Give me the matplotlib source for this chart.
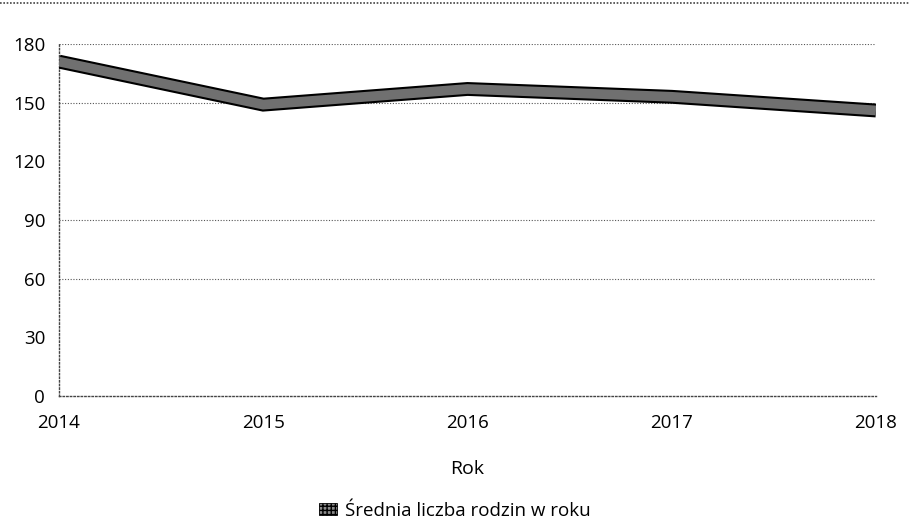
#!/usr/bin/env python3

import matplotlib.pyplot as plt
from matplotlib.patches import Patch

plt.rcParams["font.family"] = ["Open Sans", "DejaVu Sans"]

years = [2014, 2015, 2016, 2017, 2018]
families = [171, 149, 157, 153, 146]
yticks = [0, 30, 60, 90, 120, 150, 180]
grid_levels = [60, 90, 150, 180]

fig = plt.figure(figsize=(9.09, 5.22), dpi=100)
ax = fig.add_axes([0.0649, 0.2414, 0.8988, 0.6743])

# thick band: black outline with grey fill
ax.plot(years, families, color="black", linewidth=10, solid_joinstyle="miter",
        solid_capstyle="butt", zorder=3)
ax.plot(years, families, color="#707070", linewidth=7, solid_joinstyle="miter",
        solid_capstyle="butt", zorder=4)

for lvl in grid_levels:
    ax.axhline(lvl, color="#555555", linewidth=0.8, linestyle=(0, (1, 1.5)), zorder=1)

ax.set_xlim(2014, 2018)
ax.set_ylim(0, 180)
ax.set_xticks(years)
ax.set_yticks(yticks)
ax.tick_params(length=0, labelsize=13.5)
ax.tick_params(axis="x", pad=13)
ax.tick_params(axis="y", pad=10)
for sp in ["top", "right"]:
    ax.spines[sp].set_visible(False)
for sp in ["left", "bottom"]:
    ax.spines[sp].set_linestyle((0, (1, 1.6)))
    ax.spines[sp].set_linewidth(1.0)
    ax.spines[sp].set_color("#444444")

ax.set_xlabel("Rok", fontsize=14, labelpad=20)

handle = Patch(facecolor="#8a8a8a", edgecolor="black", hatch="++++", linewidth=0.6)
fig.legend([handle], ["Średnia liczba rodzin w roku"], loc="center",
           bbox_to_anchor=(0.5, 0.022), frameon=False, fontsize=13.5,
           handlelength=1.0, handleheight=0.6, handletextpad=0.4)

# dotted strip along the top edge
fig.add_artist(plt.Line2D([0.0, 1.0], [0.994, 0.994], transform=fig.transFigure,
                          color="#444444", linewidth=1.2, linestyle=(0, (1, 1))))

fig.savefig("out.png", dpi=100)
